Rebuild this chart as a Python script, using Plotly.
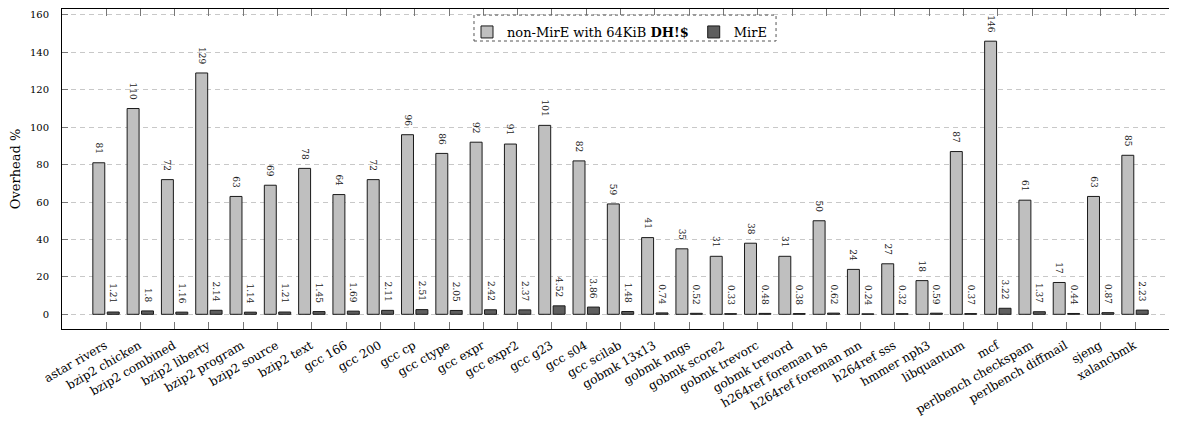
import plotly.graph_objects as go

categories = ["astar rivers", "bzip2 chicken", "bzip2 combined", "bzip2 liberty", "bzip2 program",
              "bzip2 source", "bzip2 text", "gcc 166", "gcc 200", "gcc cp", "gcc ctype", "gcc expr",
              "gcc expr2", "gcc g23", "gcc s04", "gcc scilab", "gobmk 13x13", "gobmk nngs",
              "gobmk score2", "gobmk trevorc", "gobmk trevord", "h264ref foreman bs",
              "h264ref foreman mn", "h264ref sss", "hmmer nph3", "libquantum", "mcf",
              "perlbench checkspam", "perlbench diffmail", "sjeng", "xalancbmk"]

non_mire = [81, 110, 72, 129, 63, 69, 78, 64, 72, 96, 86, 92, 91, 101, 82, 59, 41, 35, 31, 38, 31,
            50, 24, 27, 18, 87, 146, 61, 17, 63, 85]
mire = [1.21, 1.8, 1.16, 2.14, 1.14, 1.21, 1.45, 1.69, 2.11, 2.51, 2.05, 2.42, 2.37, 4.52, 3.86,
        1.48, 0.74, 0.52, 0.33, 0.48, 0.38, 0.62, 0.24, 0.32, 0.59, 0.37, 3.22, 1.37, 0.44, 0.87, 2.23]

y_ticks = [0, 20, 40, 60, 80, 100, 120, 140, 160]

FONT = "DejaVu Serif"
PAD = "\u00a0\u00a0"

fig = go.Figure()
fig.add_trace(go.Bar(
    x=categories, y=non_mire, name="non-MirE with 64KiB <b>DH!$</b>",
    marker=dict(color="#bfbfbf", line=dict(color="#1a1a1a", width=1)),
    text=[f"{v}{PAD}" for v in non_mire], textposition="outside", textangle=90,
    constraintext="none", cliponaxis=False,
    textfont=dict(family=FONT, size=9, color="#222"),
))
fig.add_trace(go.Bar(
    x=categories, y=mire, name="MirE",
    marker=dict(color="#5e5e5e", line=dict(color="#1a1a1a", width=1)),
    text=[f"{v}{PAD}" for v in mire], textposition="outside", textangle=90,
    constraintext="none", cliponaxis=False,
    textfont=dict(family=FONT, size=9, color="#222"),
))

# page body has an 8px default margin; compensate so the plot lands where the reference has it
fig.update_layout(
    width=1169, height=414,
    margin=dict(l=54, r=0, t=1, b=93, autoexpand=False),
    paper_bgcolor="white", plot_bgcolor="white",
    barmode="group", bargap=0.16, bargroupgap=0.17,
    font=dict(family=FONT, size=10, color="black"),
    showlegend=True,
    legend=dict(orientation="h", x=0.5, xanchor="center", y=0.975, yanchor="top",
                bgcolor="rgba(0,0,0,0)", borderwidth=0,
                font=dict(family=FONT, size=13, color="black"),
                itemwidth=30, traceorder="normal"),
    shapes=[dict(type="rect", xref="paper", yref="paper",
                 x0=0.3695, x1=0.6404, y0=0.9, y1=0.981,
                 line=dict(color="#555", width=1, dash="dot"),
                 fillcolor="white", layer="above")],
)

fig.update_xaxes(
    range=[-1.283, 31.224], tickangle=-30, automargin=False,
    showline=True, linecolor="black", linewidth=1, mirror="ticks",
    ticks="inside", ticklen=7, tickcolor="#777", tickwidth=1,
    showgrid=False, tickfont=dict(family=FONT, size=12, color="black"),
    ticklabelstandoff=4, ticklabelshift=-1,
)
fig.update_yaxes(
    range=[-7.86, 163.2], tickvals=y_ticks, automargin=False,
    showline=True, linecolor="black", linewidth=1, mirror="ticks",
    ticks="inside", ticklen=6, tickcolor="#777", tickwidth=1,
    showgrid=True, gridcolor="#c8c8c8", gridwidth=1, griddash="5px,4px",
    zeroline=False, ticklabelstandoff=10,
    tickfont=dict(family=FONT, size=10, color="black"),
    title=dict(text="Overhead %", font=dict(family=FONT, size=13, color="black"), standoff=14),
)

fig.write_html("out.html")
